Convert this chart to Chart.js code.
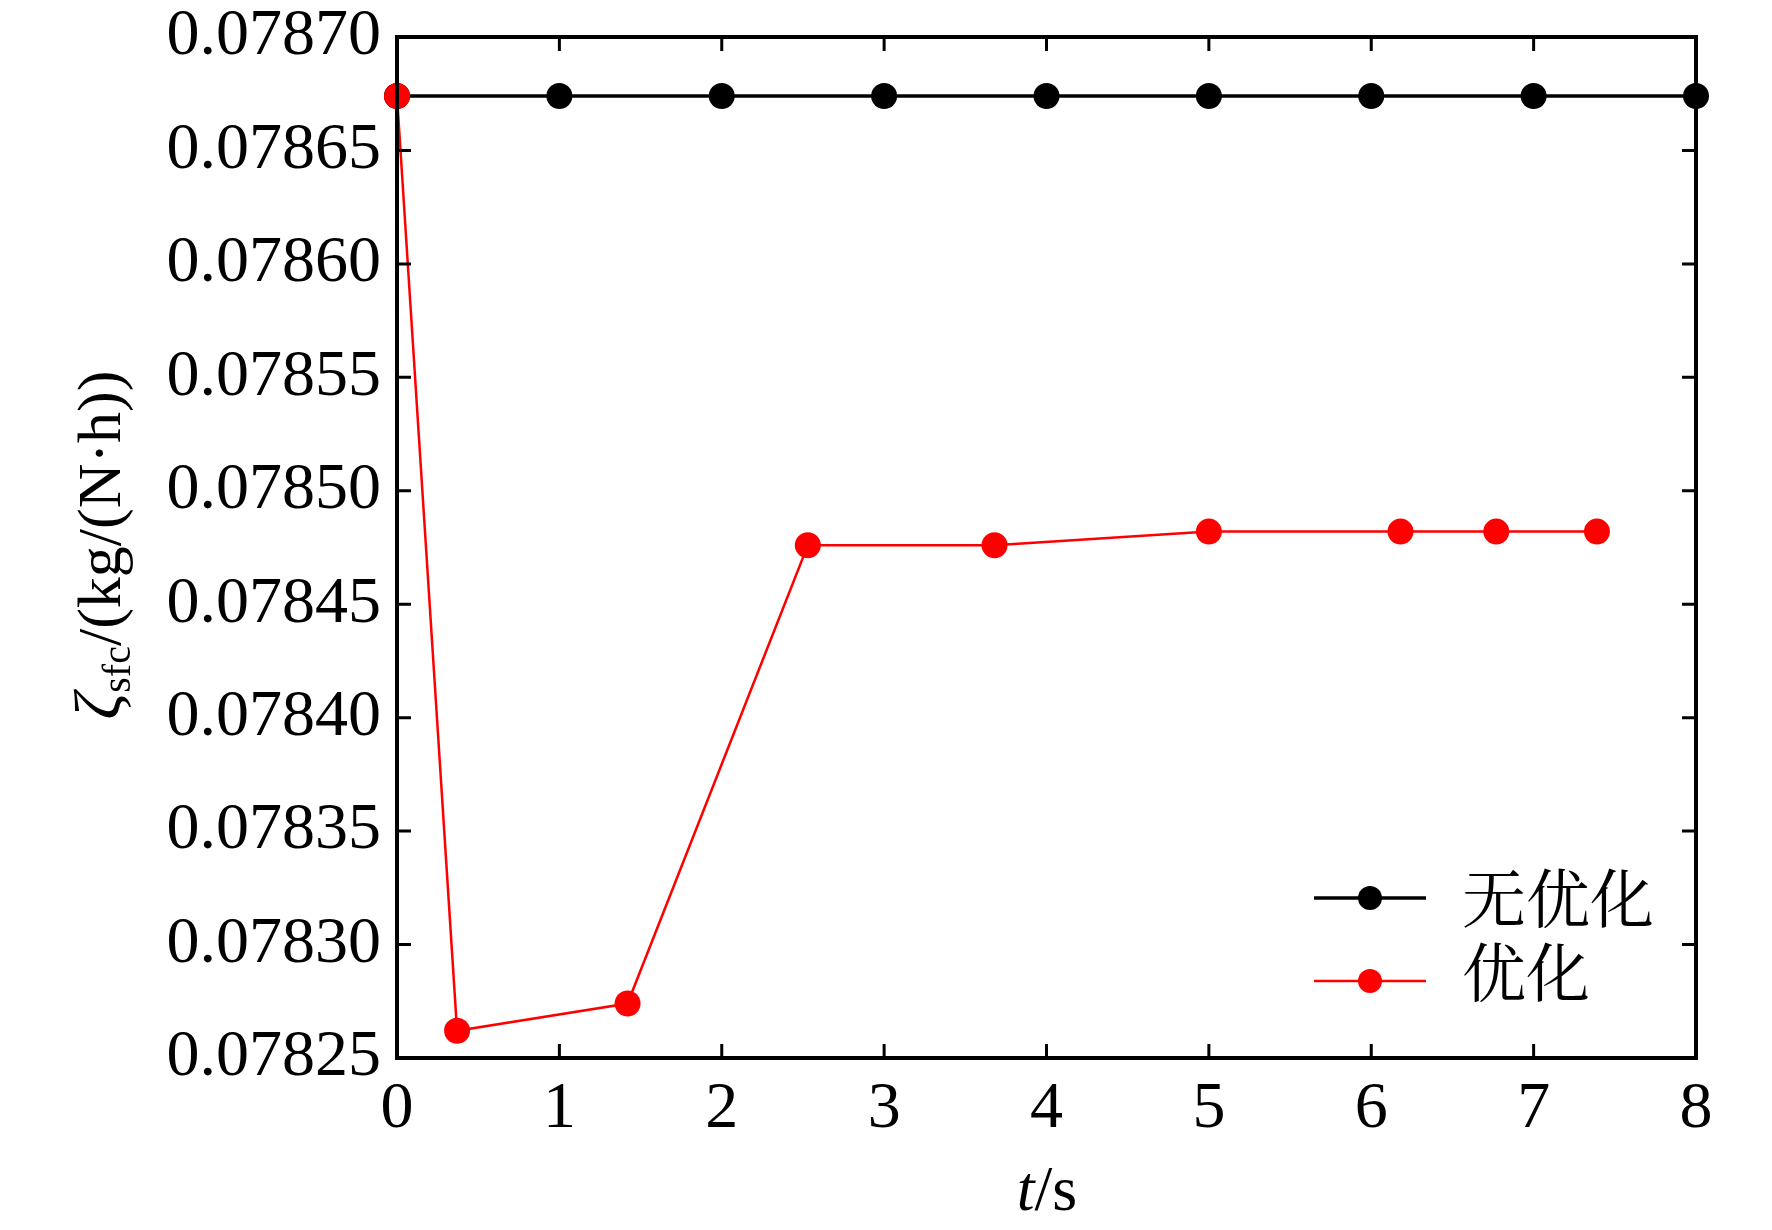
<!DOCTYPE html>
<html>
<head>
<meta charset="utf-8">
<script src="https://cdn.jsdelivr.net/npm/chart.js@4/dist/chart.umd.min.js"></script>
<style>
  html, body { margin: 0; padding: 0; background: #fff; }
  #wrap { width: 1772px; height: 1230px; }
</style>
</head>
<body>
<div id="wrap"><canvas id="sfcChart" width="1772" height="1230"></canvas></div>
<script>
// values
const seriesNames = ['无优化', '优化'];
const noOptTime = [0, 1, 2, 3, 4, 5, 6, 7, 8];
const noOptSfc = [0.078674, 0.078674, 0.078674, 0.078674, 0.078674, 0.078674, 0.078674, 0.078674, 0.078674];
const optTime = [0, 0.37, 1.42, 2.53, 3.68, 5.0, 6.18, 6.77, 7.39];
const optSfc = [0.078674, 0.078262, 0.078274, 0.078476, 0.078476, 0.078482, 0.078482, 0.078482, 0.078482];
const xTicks = [0, 1, 2, 3, 4, 5, 6, 7, 8];
const yTicks = [0.07825, 0.07830, 0.07835, 0.07840, 0.07845, 0.07850, 0.07855, 0.07860, 0.07865, 0.07870];

const serif = '"Liberation Serif", "DejaVu Serif", serif';
const cjk = '"Noto Serif CJK SC", "Noto Sans CJK SC", serif';

function toPoints(xs, ys) {
    return xs.map((x, i) => ({x: x, y: ys[i]}));
}

// box round the plot with inward ticks on all four sides
const frameTicks = {
    id: 'frameTicks',
    afterDatasetsDraw(chart) {
        const {ctx, chartArea: a, scales: {x, y}} = chart;
        const len = 14;
        ctx.save();
        ctx.strokeStyle = '#000';
        ctx.lineWidth = 4;
        ctx.strokeRect(a.left, a.top, a.right - a.left, a.bottom - a.top);
        ctx.lineWidth = 3;
        ctx.beginPath();
        xTicks.forEach(v => {
            const px = x.getPixelForValue(v);
            ctx.moveTo(px, a.bottom); ctx.lineTo(px, a.bottom - len);
            ctx.moveTo(px, a.top); ctx.lineTo(px, a.top + len);
        });
        yTicks.forEach(v => {
            const py = y.getPixelForValue(v);
            ctx.moveTo(a.left, py); ctx.lineTo(a.left + len, py);
            ctx.moveTo(a.right, py); ctx.lineTo(a.right - len, py);
        });
        ctx.stroke();
        ctx.restore();
    }
};

// axis titles with italics and subscript
const axisTitles = {
    id: 'axisTitles',
    afterDraw(chart) {
        const ctx = chart.ctx;
        ctx.save();
        ctx.fillStyle = '#000';
        ctx.textBaseline = 'alphabetic';

        // x title: t/s
        const big = '64px ' + serif;
        const bigIt = 'italic 64px ' + serif;
        ctx.font = bigIt;
        const wt = ctx.measureText('t').width;
        ctx.font = big;
        const ws = ctx.measureText('/s').width;
        let sx = 1047 - (wt + ws) / 2;
        ctx.font = bigIt;
        ctx.fillText('t', sx, 1210);
        ctx.font = big;
        ctx.fillText('/s', sx + wt, 1210);

        // y title: ζsfc/(kg/(N·h))
        const yBig = '62px ' + serif;
        const yIt = 'italic 66px ' + serif;
        const ySub = '40px ' + serif;
        ctx.font = yIt;
        const w1 = ctx.measureText('ζ').width;
        ctx.font = ySub;
        const w2 = ctx.measureText('sfc').width;
        ctx.font = yBig;
        const w3 = ctx.measureText('/(kg/(N·h))').width;
        const total = w1 + w2 + w3;
        ctx.translate(120, 545);
        ctx.rotate(-Math.PI / 2);
        let px = -total / 2;
        ctx.font = yIt;
        ctx.fillText('ζ', px, 0);
        px += w1;
        ctx.font = ySub;
        ctx.fillText('sfc', px, 10);
        px += w2;
        ctx.font = yBig;
        ctx.fillText('/(kg/(N·h))', px, 0);
        ctx.restore();
    }
};

// legend inside the plot, bottom right
const innerLegend = {
    id: 'innerLegend',
    afterDraw(chart) {
        const ctx = chart.ctx;
        const rows = [{ds: chart.data.datasets[1], y: 898, ty: 898}, {ds: chart.data.datasets[0], y: 981, ty: 972}];
        ctx.save();
        rows.forEach(r => {
            ctx.strokeStyle = r.ds.borderColor;
            ctx.lineWidth = r.ds.borderWidth;
            ctx.beginPath();
            ctx.moveTo(1314, r.y); ctx.lineTo(1426, r.y);
            ctx.stroke();
            ctx.fillStyle = r.ds.pointBackgroundColor;
            ctx.beginPath();
            ctx.arc(1370, r.y, 12, 0, Math.PI * 2);
            ctx.fill();
            ctx.fillStyle = '#000';
            ctx.font = '64px ' + cjk;
            ctx.textBaseline = 'middle';
            ctx.fillText(r.ds.label, 1462, r.ty);
        });
        ctx.restore();
    }
};

const sfcChart = new Chart(document.getElementById('sfcChart'), {
    type: 'line',
    data: {
        datasets: [
            {
                label: seriesNames[1],
                data: toPoints(optTime, optSfc),
                borderColor: '#ff0000',
                backgroundColor: '#ff0000',
                pointBackgroundColor: '#ff0000',
                pointBorderWidth: 0,
                borderWidth: 2.5,
                pointRadius: 13,
                tension: 0,
                clip: false
            },
            {
                label: seriesNames[0],
                data: toPoints(noOptTime, noOptSfc),
                borderColor: '#000000',
                backgroundColor: '#000000',
                pointBackgroundColor: '#000000',
                pointBorderWidth: 0,
                borderWidth: 3.5,
                pointRadius: 13,
                tension: 0,
                clip: false
            }
        ]
    },
    options: {
        responsive: false,
        animation: false,
        devicePixelRatio: 1,
        layout: {padding: {top: 37, right: 76, left: 0, bottom: 0}},
        plugins: {legend: {display: false}, tooltip: {enabled: false}},
        scales: {
            x: {
                type: 'linear',
                min: 0,
                max: 8,
                afterFit: s => {
                    s.height = 1230 - 37 - 1021;
                    s.paddingLeft = 0; s.paddingRight = 0;
                },
                afterBuildTicks: s => { s.ticks = xTicks.map(v => ({value: v})); },
                grid: {display: false, drawTicks: false},
                border: {display: false},
                ticks: {
                    color: '#000',
                    padding: 12,
                    maxRotation: 0,
                    font: {family: serif, size: 66},
                    callback: v => String(v)
                }
            },
            y: {
                type: 'linear',
                min: 0.07825,
                max: 0.07870,
                afterFit: s => {
                    s.width = 397;
                    s.paddingTop = 0; s.paddingBottom = 0;
                },
                afterBuildTicks: s => { s.ticks = yTicks.map(v => ({value: v})); },
                grid: {display: false, drawTicks: false},
                border: {display: false},
                ticks: {
                    color: '#000',
                    padding: 16,
                    font: {family: serif, size: 66},
                    callback: v => Number(v).toFixed(5)
                }
            }
        }
    },
    plugins: [frameTicks, axisTitles, innerLegend]
});
</script>
</body>
</html>
